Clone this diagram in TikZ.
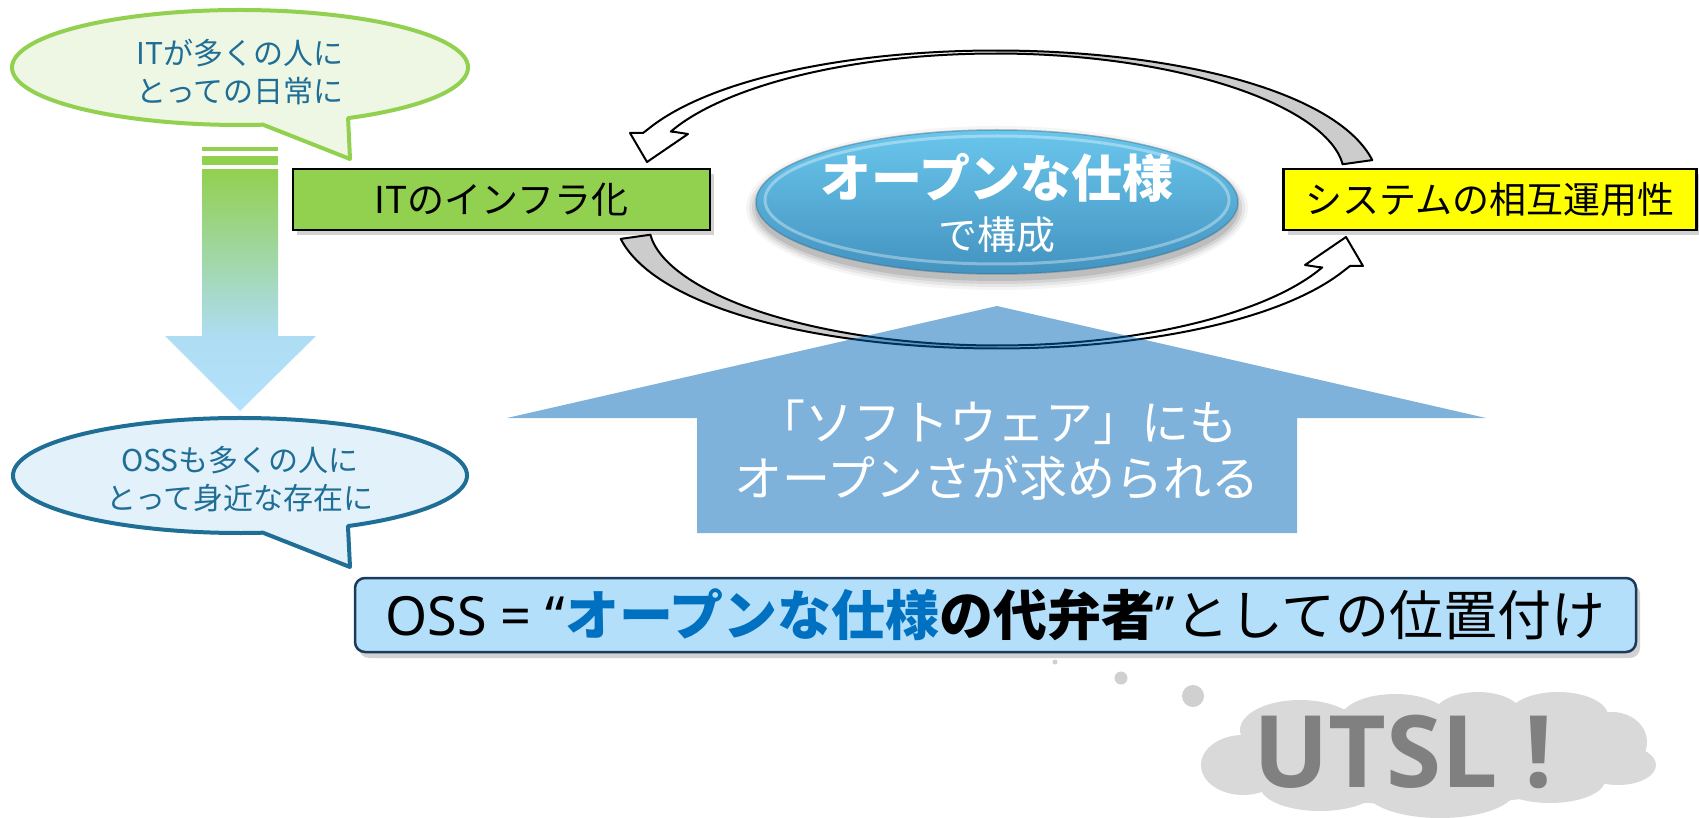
\documentclass[tikz,border=0pt]{standalone}
\usepackage{fontspec}
\setmainfont{Noto Sans CJK JP}
\newfontfamily\latinfont{Noto Sans}
\newfontfamily\utslfont{Open Sans}
\usetikzlibrary{shadows}
\definecolor{cgfill}{HTML}{EEF7E4}
\definecolor{cgline}{HTML}{92D050}
\definecolor{cbfill}{HTML}{E2F1FA}
\definecolor{cbline}{HTML}{1F6E96}
\definecolor{ctext}{HTML}{1F6E96}
\definecolor{itgreen}{HTML}{92D050}
\definecolor{sysyellow}{HTML}{FFFF00}
\definecolor{ossfill}{HTML}{B4DFFA}
\definecolor{ossline}{HTML}{1B3A5C}
\definecolor{ossblue}{HTML}{0070C0}
\definecolor{bandgrey}{HTML}{CCCCCC}
\definecolor{upblue}{RGB}{0,103,185}
\definecolor{arrowlb}{HTML}{AEDDF3}
\definecolor{arrowlb2}{HTML}{B4E1FB}
\definecolor{cloudgrey}{HTML}{D9D9D9}
\definecolor{dotgrey}{HTML}{D0D0D0}
\definecolor{utslgrey}{HTML}{808080}
\definecolor{elltop}{HTML}{6AC6EC}
\definecolor{ellbot}{HTML}{4393C0}
\pgfmathdeclarefunction{bandhw}{1}{\pgfmathparse{(#1<90)*(1.5+13.5*((90-#1)/82)*((90-#1)/82))+(#1>=90)*(1.5+7.5*((#1-90)/66)*((#1-90)/66))}}
\begin{document}
\begin{tikzpicture}[x=1pt,y=1pt,
  callouttext/.style={text=ctext, align=center, font=\fontsize{30}{38}\selectfont},
  boxnode/.style={draw=black, line width=2.5pt, minimum height=61pt, inner sep=0pt,
     font=\fontsize{37}{40}\selectfont,
     drop shadow={shadow xshift=4pt, shadow yshift=-5pt, opacity=0.35}},
  bandline/.style={line width=2pt, line join=round},
]
\useasboundingbox (0,0) rectangle (1699,-818);
\fill[white] (0,0) rectangle (1699,-818);

% top callout
\draw[line width=4pt, draw=cgline, fill=cgfill, line join=round]
  ([shift={(-61.7:228pt and 57.5pt)}]240,-67.5) arc[start angle=-61.7, end angle=275.8, x radius=228pt, y radius=57.5pt]
  -- (350,-159) -- cycle;
\node[callouttext] (c1) at (240,-72) {ITが多くの人に\\とっての日常に};

% down arrow
\fill[itgreen] (202,-147) rectangle (278,-151);
\fill[itgreen] (202,-156) rectangle (278,-165);
\shade[top color=itgreen, bottom color=arrowlb] (202,-170) rectangle (278,-336);
\shade[top color=arrowlb, bottom color=arrowlb2] (165,-336) -- (316,-336) -- (240,-411) -- cycle;

% bottom callout
\draw[line width=4pt, draw=cbline, fill=cbfill, line join=round]
  ([shift={(-61.6:227pt and 57.5pt)}]240,-475.5) arc[start angle=-61.6, end angle=275.8, x radius=227pt, y radius=57.5pt]
  -- (350,-567) -- cycle;
\node[callouttext] (c2) at (240,-479) {OSSも多くの人に\\とって身近な存在に};

% boxes
\node[boxnode, fill=itgreen, minimum width=417pt] (it) at (501.5,-199.5) {ITのインフラ化};
\node[boxnode, fill=sysyellow, minimum width=413pt] (sys) at (1490,-199.5) {システムの相互運用性};

% curved arrows
\foreach \rot in {0,180}{
\begin{scope}[rotate around={\rot:(996.5,-199.5)}]
 \fill[bandgrey] plot[domain=8:90,samples=50,variable=\t] ({996+(365+bandhw(\t))*cos(\t)},{-180+(128+bandhw(\t))*sin(\t)})
   -- plot[domain=90:8,samples=50,variable=\t] ({996+(365-bandhw(\t))*cos(\t)},{-180+(128-bandhw(\t))*sin(\t)}) -- cycle;
 \fill[white] plot[domain=90:156,samples=50,variable=\t] ({996+(365+bandhw(\t))*cos(\t)},{-180+(128+bandhw(\t))*sin(\t)})
   -- (643,-133) -- (630,-133) -- (647,-162) -- (688,-134) -- (675,-132)
   -- plot[domain=156:90,samples=50,variable=\t] ({996+(365-bandhw(\t))*cos(\t)},{-180+(128-bandhw(\t))*sin(\t)}) -- cycle;
 \draw[bandline] plot[domain=8:156,samples=100,variable=\t] ({996+(365+bandhw(\t))*cos(\t)},{-180+(128+bandhw(\t))*sin(\t)})
   -- (643,-133) -- (630,-133) -- (647,-162) -- (688,-134) -- (675,-132)
   -- plot[domain=156:8,samples=100,variable=\t] ({996+(365-bandhw(\t))*cos(\t)},{-180+(128-bandhw(\t))*sin(\t)}) -- cycle;
\end{scope}}

% center ellipse
\foreach \i/\o in {10/0.04,7/0.06,4/0.08,1/0.10}{
  \fill[black, opacity=\o] (997,-208) ellipse[x radius=241+\i, y radius=72+\i];
}
\shade[top color=elltop, bottom color=ellbot] (997,-202) ellipse[x radius=241, y radius=72];
\draw[white, opacity=0.35, line width=3pt] (997,-200) ellipse[x radius=232, y radius=64];
\draw[ellbot!70!black, opacity=0.4, line width=1.5pt] (997,-202) ellipse[x radius=241, y radius=72];
\node[text=white, font=\bfseries\fontsize{51}{54}\selectfont] (spec) at (997,-178) {オープンな仕様};
\node[text=white, font=\fontsize{39}{42}\selectfont] (spec2) at (997,-235) {で構成};

% up arrow
\fill[upblue, fill opacity=0.5] (997,-306) -- (1486,-418) -- (1297,-418) -- (1297,-533)
  -- (697,-533) -- (697,-418) -- (507,-418) -- cycle;
\node[text=white, align=center, font=\fontsize{48}{56}\selectfont] (up) at (997,-450)
  {「ソフトウェア」にも\\オープンさが求められる};

% bottom box
\node[draw=ossline, fill=ossfill, line width=2.5pt, rounded corners=10pt,
  minimum width=1281pt, minimum height=74pt, inner sep=0pt,
  drop shadow={shadow xshift=4pt, shadow yshift=-6pt, opacity=0.35},
  font=\fontsize{54}{58}\selectfont] (oss) at (995.5,-615)
  {{\latinfont OSS = “}{\bfseries\color{ossblue}オープンな仕様}{\bfseries の代弁者}{\latinfont ”}としての位置付け};

% thought dots
\fill[dotgrey] (1055,-662) circle[radius=2.5];
\fill[dotgrey] (1121,-678) circle[radius=6.5];
\fill[dotgrey] (1193,-696) circle[radius=11];

% cloud
\begin{scope}[cloudgrey]
\fill (1425,-755) ellipse[x radius=200, y radius=50];
\fill (1300,-730) ellipse[x radius=60, y radius=30];
\fill (1395,-720) ellipse[x radius=55, y radius=26];
\fill (1478,-716) ellipse[x radius=45, y radius=24];
\fill (1558,-716) ellipse[x radius=50, y radius=24];
\fill (1612,-742) ellipse[x radius=35, y radius=30];
\fill (1618,-765) ellipse[x radius=38, y radius=20];
\fill (1550,-780) ellipse[x radius=55, y radius=23];
\fill (1440,-790) ellipse[x radius=75, y radius=28];
\fill (1320,-786) ellipse[x radius=60, y radius=25];
\fill (1243,-765) ellipse[x radius=42, y radius=30];
\end{scope}
\node[text=utslgrey, font=\utslfont\bfseries\fontsize{100}{110}\selectfont] (utsl) at (1403,-752) {UTSL !};
\end{tikzpicture}
\end{document}
